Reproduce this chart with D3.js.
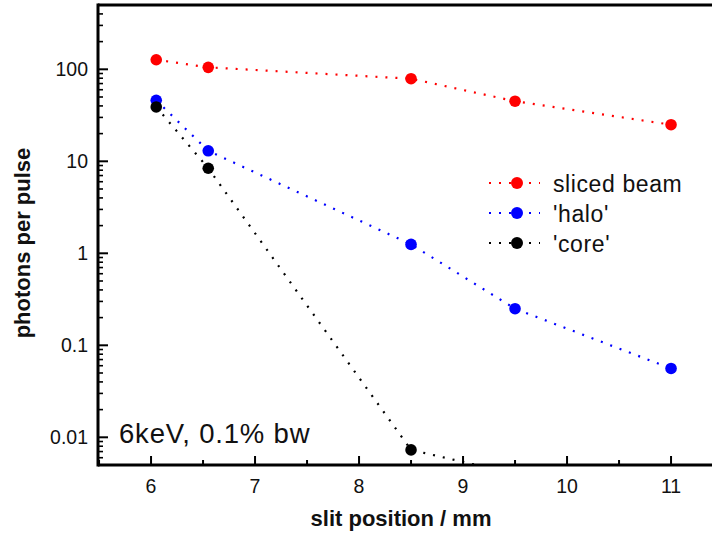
<!DOCTYPE html>
<html>
<head>
<meta charset="utf-8">
<script src="https://cdn.jsdelivr.net/npm/d3@7"></script>
<style>
  html, body { margin: 0; padding: 0; background: #fff; }
  svg { display: block; }
  text { font-family: "Liberation Sans", Arial, sans-serif; fill: #111; }
</style>
</head>
<body>
<svg id="chart" width="712" height="536"></svg>
<script>
// Slit scan at 6 keV: photons per pulse vs. slit position
const slitPos = [6.05, 6.55, 8.5, 9.5, 11];
const slicedBeam = [127, 105, 79, 45, 25];
const halo = [46, 13, 1.25, 0.25, 0.056];
const corePos = [6.05, 6.55, 8.5, 9.5];
const core = [39, 8.4, 0.0073, 0.004];

const xTicks = [6, 7, 8, 9, 10, 11];
const yTicks = [0.01, 0.1, 1, 10, 100];
const yTickLabels = ["0.01", "0.1", "1", "10", "100"];

const seriesNames = ["sliced beam", "'halo'", "'core'"];
const seriesColors = ["#ff0000", "#0000ff", "#000000"];

const svg = d3.select("#chart");
const plotLeft = 98, plotTop = 5, plotBottom = 465;

const x = d3.scaleLinear().domain([5.49, 11.8]).range([plotLeft, plotLeft + 6.31 * 104]);
const y = d3.scaleLog().domain([0.005, 500]).range([plotBottom, plotTop]);

// clip region for data
svg.append("clipPath").attr("id", "plotClip")
  .append("rect").attr("x", plotLeft).attr("y", plotTop)
  .attr("width", 712 - plotLeft).attr("height", plotBottom - plotTop - 1);

// x ticks (inward)
const xMinor = [5.5, 6.5, 7.5, 8.5, 9.5, 10.5, 11.5];
svg.append("g").selectAll("line").data(xMinor).join("line")
  .attr("x1", d => x(d)).attr("x2", d => x(d))
  .attr("y1", plotBottom).attr("y2", plotBottom - 5)
  .attr("stroke", "#000").attr("stroke-width", 2);
svg.append("g").selectAll("line").data(xTicks).join("line")
  .attr("x1", d => x(d)).attr("x2", d => x(d))
  .attr("y1", plotBottom).attr("y2", plotBottom - 9)
  .attr("stroke", "#000").attr("stroke-width", 2);
svg.append("g").selectAll("text").data(xTicks).join("text")
  .attr("x", d => x(d)).attr("y", plotBottom + 28)
  .attr("text-anchor", "middle").attr("font-size", 19.5)
  .text(d => d);

// y minor ticks (log)
const yMinor = [];
[0.001, 0.01, 0.1, 1, 10, 100].forEach(dec => {
  for (let k = 2; k <= 9; k++) {
    const v = dec * k;
    if (v >= 0.005 && v <= 500) yMinor.push(v);
  }
});
svg.append("g").selectAll("line").data(yMinor).join("line")
  .attr("x1", plotLeft).attr("x2", plotLeft + 5)
  .attr("y1", d => y(d)).attr("y2", d => y(d))
  .attr("stroke", "#000").attr("stroke-width", 1.6);
svg.append("g").selectAll("line").data(yTicks).join("line")
  .attr("x1", plotLeft).attr("x2", plotLeft + 10)
  .attr("y1", d => y(d)).attr("y2", d => y(d))
  .attr("stroke", "#000").attr("stroke-width", 2);
svg.append("g").selectAll("text").data(yTicks).join("text")
  .attr("x", plotLeft - 10).attr("y", d => y(d) + 7)
  .attr("text-anchor", "end").attr("font-size", 19.5)
  .text((d, i) => yTickLabels[i]);

// frame
svg.append("line").attr("x1", plotLeft).attr("x2", 712).attr("y1", plotTop).attr("y2", plotTop)
  .attr("stroke", "#000").attr("stroke-width", 3);
svg.append("line").attr("x1", plotLeft).attr("x2", 712).attr("y1", plotBottom).attr("y2", plotBottom)
  .attr("stroke", "#000").attr("stroke-width", 3);
svg.append("line").attr("x1", plotLeft).attr("x2", plotLeft).attr("y1", plotTop - 1.5).attr("y2", plotBottom + 1.5)
  .attr("stroke", "#000").attr("stroke-width", 3);

// series
const series = [
  { xs: slitPos, ys: slicedBeam },
  { xs: slitPos, ys: halo },
  { xs: corePos, ys: core }
];
const line = d3.line().x(d => x(d[0])).y(d => y(d[1]));
const plot = svg.append("g").attr("clip-path", "url(#plotClip)");
series.forEach((s, i) => {
  const pts = s.xs.map((v, j) => [v, s.ys[j]]);
  plot.append("path").datum(pts)
    .attr("d", line).attr("fill", "none")
    .attr("stroke", seriesColors[i]).attr("stroke-width", 2.2)
    .attr("stroke-dasharray", "2,8");
  plot.append("g").selectAll("circle").data(pts).join("circle")
    .attr("cx", d => x(d[0])).attr("cy", d => y(d[1])).attr("r", 5.8)
    .attr("fill", seriesColors[i]);
});

// legend
const leg = svg.append("g");
seriesNames.forEach((name, i) => {
  const ly = 183 + i * 30;
  leg.append("line").attr("x1", 489).attr("x2", 540).attr("y1", ly).attr("y2", ly)
    .attr("stroke", seriesColors[i]).attr("stroke-width", 2.2).attr("stroke-dasharray", "2,8");
  leg.append("circle").attr("cx", 517).attr("cy", ly).attr("r", 6).attr("fill", seriesColors[i]);
  leg.append("text").attr("x", 553).attr("y", ly + 9).attr("font-size", 23)
    .attr("letter-spacing", 0.6).text(name);
});

// annotation
svg.append("text").attr("x", 119).attr("y", 443).attr("font-size", 27.5)
  .attr("letter-spacing", 0.8).text("6keV, 0.1% bw");

// axis titles
svg.append("text").attr("x", 401).attr("y", 526).attr("text-anchor", "middle")
  .attr("font-size", 22).attr("font-weight", "bold").text("slit position / mm");
svg.append("text").attr("transform", "translate(30,243) rotate(-90)").attr("text-anchor", "middle")
  .attr("font-size", 22).attr("font-weight", "bold").text("photons per pulse");
</script>
</body>
</html>
